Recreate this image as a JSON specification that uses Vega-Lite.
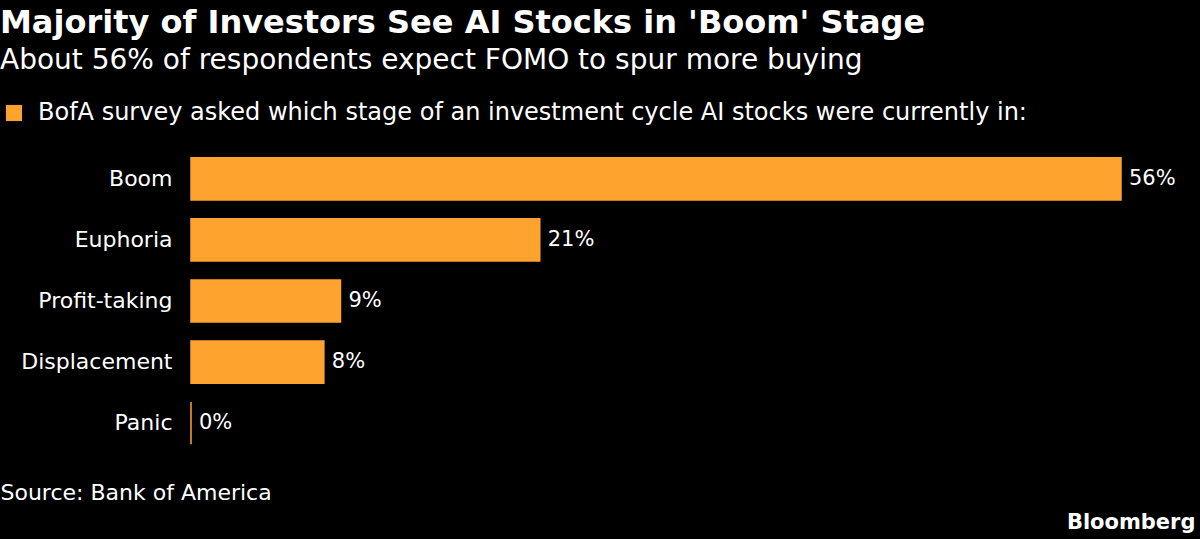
{
  "$schema": "https://vega.github.io/schema/vega-lite/v6.json",
  "width": 930,
  "height": 306,
  "autosize": "none",
  "padding": {"left": 191, "top": 148, "right": 79, "bottom": 85},
  "background": "#000000",
  "config": {
    "view": {"stroke": null},
    "font": "DejaVu Sans"
  },
  "title": {
    "text": "Majority of Investors See AI Stocks in 'Boom' Stage",
    "subtitle": "About 56% of respondents expect FOMO to spur more buying",
    "anchor": "start",
    "frame": "group",
    "dx": -191,
    "offset": 25,
    "font": "DejaVu Sans",
    "fontSize": 32,
    "fontWeight": "bold",
    "color": "#ffffff",
    "subtitleFont": "DejaVu Sans",
    "subtitleFontSize": 28,
    "subtitleColor": "#ffffff",
    "subtitlePadding": 7
  },
  "data": {
    "values": [
      {"stage": "Boom", "value": 56, "label": "56%", "series": "BofA survey asked which stage of an investment cycle AI stocks were currently in:"},
      {"stage": "Euphoria", "value": 21, "label": "21%", "series": "BofA survey asked which stage of an investment cycle AI stocks were currently in:"},
      {"stage": "Profit-taking", "value": 9, "label": "9%", "series": "BofA survey asked which stage of an investment cycle AI stocks were currently in:"},
      {"stage": "Displacement", "value": 8, "label": "8%", "series": "BofA survey asked which stage of an investment cycle AI stocks were currently in:"},
      {"stage": "Panic", "value": 0, "label": "0%", "series": "BofA survey asked which stage of an investment cycle AI stocks were currently in:"}
    ]
  },
  "encoding": {
    "y": {
      "field": "stage",
      "type": "nominal",
      "sort": null,
      "scale": {"paddingInner": 0.31, "paddingOuter": 0.16}
    }
  },
  "layer": [
    {
      "mark": {"type": "bar", "stroke": "#FFA32F", "strokeWidth": 1.5},
      "encoding": {
        "y": {
          "field": "stage",
          "type": "nominal",
          "sort": null,
          "scale": {"paddingInner": 0.31, "paddingOuter": 0.16},
          "axis": {
            "title": null,
            "ticks": false,
            "domain": false,
            "labelColor": "#ffffff",
            "labelFont": "DejaVu Sans",
            "labelFontSize": 22,
            "labelPadding": 19,
            "labelLimit": 300
          }
        },
        "x": {
          "field": "value",
          "type": "quantitative",
          "scale": {"domain": [0, 56], "nice": false},
          "axis": {
            "labels": false,
            "ticks": false,
            "domain": false,
            "grid": false,
            "title": "Source: Bank of America",
            "titleColor": "#ffffff",
            "titleFont": "DejaVu Sans",
            "titleFontSize": 22,
            "titleFontWeight": "normal",
            "titleAnchor": "start",
            "titleAlign": "left",
            "titleBaseline": "alphabetic",
            "titleX": -191,
            "titleY": 45
          }
        },
        "color": {
          "field": "series",
          "type": "nominal",
          "scale": {"range": ["#FFA32F"]},
          "legend": {
            "title": null,
            "orient": "none",
            "legendX": -189,
            "legendY": -47,
            "symbolType": "square",
            "symbolSize": 260,
            "symbolStrokeWidth": 0,
            "labelColor": "#ffffff",
            "labelFont": "DejaVu Sans",
            "labelFontSize": 24,
            "labelLimit": 1100,
            "labelOffset": 12
          }
        }
      }
    },
    {
      "mark": {"type": "text", "align": "left", "baseline": "middle", "dx": 8, "color": "#ffffff", "fontSize": 21, "font": "DejaVu Sans"},
      "encoding": {
        "y": {
          "field": "stage",
          "type": "nominal",
          "sort": null,
          "axis": {
            "orient": "right",
            "labels": false,
            "ticks": false,
            "domain": false,
            "title": "Bloomberg",
            "titleAngle": 0,
            "titleAlign": "right",
            "titleBaseline": "alphabetic",
            "titleAnchor": null,
            "titleX": 74,
            "titleY": 380,
            "titleColor": "#ffffff",
            "titleFont": "DejaVu Sans",
            "titleFontSize": 21,
            "titleFontWeight": "bold"
          }
        },
        "x": {"field": "value", "type": "quantitative"},
        "text": {"field": "label"}
      }
    }
  ],
  "resolve": {"axis": {"y": "independent"}}
}
